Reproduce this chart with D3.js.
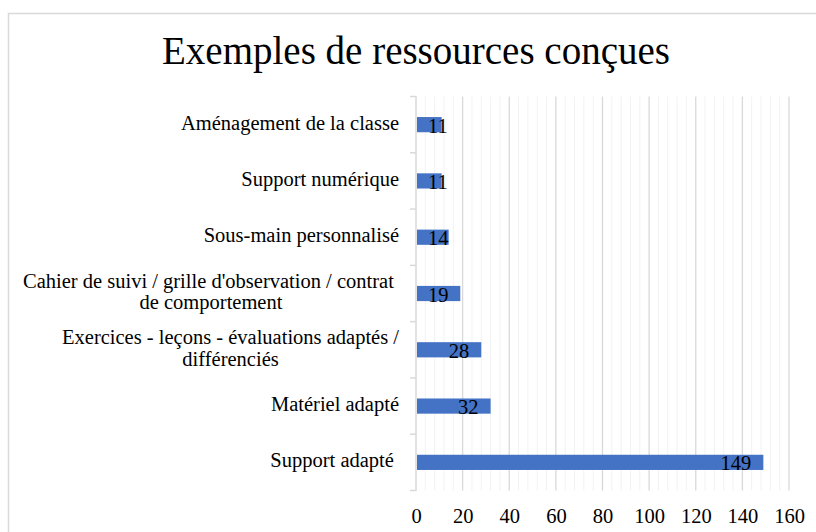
<!DOCTYPE html>
<html>
<head>
<meta charset="utf-8">
<script src="https://cdn.jsdelivr.net/npm/d3@7"></script>
<style>
  body { margin: 0; background: #fff; }
  svg text { font-family: "Liberation Serif", "Times New Roman", serif; fill: #000; }
</style>
</head>
<body>
<svg id="chart" width="816" height="532"></svg>
<script>
// categories, top to bottom ("\n" = line break as in the source chart)
var categories = [
  "Aménagement de la classe",
  "Support numérique",
  "Sous-main personnalisé",
  "Cahier de suivi / grille d'observation / contrat \nde comportement",
  "Exercices - leçons - évaluations adaptés /\ndifférenciés",
  "Matériel adapté",
  "Support adapté "
];
var values = [11, 11, 14, 19, 28, 32, 149];
var xTicks = [0, 20, 40, 60, 80, 100, 120, 140, 160];
var title = "Exemples de ressources conçues";

var svg = d3.select("#chart");

// outer chart border (runs off the right/bottom edge)
svg.append("rect")
  .attr("x", 8.5).attr("y", 13.5)
  .attr("width", 830).attr("height", 540)
  .attr("fill", "none")
  .attr("stroke", "#d9d9d9")
  .attr("stroke-width", 1.5);

svg.append("text")
  .attr("x", 416).attr("y", 64)
  .attr("text-anchor", "middle")
  .style("font-size", "39px")
  .text(title);

var xScale = d3.scaleLinear().domain([0, 160]).range([416, 789]);
var yScale = d3.scaleBand()
  .domain(categories)
  .range([96.5, 490.5])
  .paddingInner(0.73)
  .paddingOuter(0.365);

// minor gridlines every 4
var minor = d3.range(0, 161, 4).filter(function (d) { return d % 20 != 0; });
svg.append("g").selectAll("line")
  .data(minor)
  .enter().append("line")
  .attr("x1", function (d) { return xScale(d); })
  .attr("x2", function (d) { return xScale(d); })
  .attr("y1", 96.5).attr("y2", 490.5)
  .attr("stroke", "#f2f2f2")
  .attr("stroke-width", 1);

// major gridlines
svg.append("g").selectAll("line")
  .data(xTicks.slice(1))
  .enter().append("line")
  .attr("x1", function (d) { return xScale(d); })
  .attr("x2", function (d) { return xScale(d); })
  .attr("y1", 96.5).attr("y2", 490.5)
  .attr("stroke", "#d9d9d9")
  .attr("stroke-width", 1.3);

// x tick labels
var xAxis = d3.axisBottom(xScale).tickValues(xTicks).tickSize(0).tickPadding(0);
var gx = svg.append("g")
  .attr("transform", "translate(0,490.5)")
  .call(xAxis);
gx.select(".domain").remove();
gx.selectAll("text")
  .attr("y", 32)
  .attr("dy", 0)
  .style("font-size", "20.5px")
  .style("font-family", "'Liberation Serif', 'Times New Roman', serif")
  .attr("fill", "#000");

// left axis line and category ticks between bands
var step = yScale.step();
var bounds = d3.range(0, categories.length + 1).map(function (i) { return 96.5 + i * step; });
svg.append("line")
  .attr("x1", 416).attr("x2", 416)
  .attr("y1", 96).attr("y2", 491)
  .attr("stroke", "#d9d9d9")
  .attr("stroke-width", 1.5);
svg.append("g").selectAll("line")
  .data(bounds)
  .enter().append("line")
  .attr("x1", 410).attr("x2", 416)
  .attr("y1", function (d) { return d; })
  .attr("y2", function (d) { return d; })
  .attr("stroke", "#d9d9d9")
  .attr("stroke-width", 1.5);

// bars
svg.append("g").selectAll("rect")
  .data(values)
  .enter().append("rect")
  .attr("x", xScale(0) + 1)
  .attr("y", function (d, i) { return yScale(categories[i]); })
  .attr("width", function (d) { return xScale(d) - xScale(0) - 1; })
  .attr("height", yScale.bandwidth())
  .attr("fill", "#4472c4");

// category labels, wrapped lines centred inside a right-aligned block
var labels = svg.append("g");
categories.forEach(function (c, i) {
  var lines = c.split("\n");
  var cy = yScale(c) + yScale.bandwidth() / 2;
  var t = labels.append("text")
    .style("font-size", "20.5px")
    .attr("text-anchor", "middle")
    .attr("xml:space", "preserve")
    .style("white-space", "pre");
  var spans = lines.map(function (l, j) {
    return t.append("tspan")
      .attr("y", cy + 5 + (j - (lines.length - 1) / 2) * 21.5)
      .text(l);
  });
  var maxW = d3.max(spans, function (s) { return s.node().getComputedTextLength(); });
  spans.forEach(function (s) { s.attr("x", 399 - maxW / 2); });
});

// value labels at the inside end of each bar
svg.append("g").selectAll("text")
  .data(values)
  .enter().append("text")
  .style("font-size", "20.5px")
  .attr("y", function (d, i) { return yScale(categories[i]) + yScale.bandwidth() / 2 + 8; })
  .text(function (d) { return d; })
  .attr("x", function (d) {
    var w = this.getComputedTextLength();
    return Math.max(xScale(0) + 12, xScale(d) - 12 - w);
  });
</script>
</body>
</html>
